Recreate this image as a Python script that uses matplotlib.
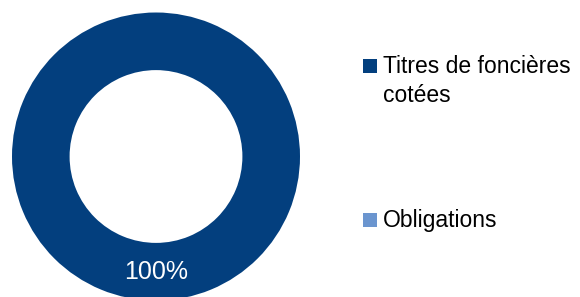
import matplotlib
matplotlib.use("Agg")
import matplotlib.pyplot as plt
from matplotlib.patches import Rectangle

# data
labels = ["Titres de foncières\ncotées", "Obligations"]
values = [100, 0]
colors = ["#033F7E", "#6B95CF"]

plt.rcParams['font.family'] = ['Liberation Sans', 'DejaVu Sans']

W, H = 580, 297
fig = plt.figure(figsize=(W / 100, H / 100), dpi=100)

# donut, centre (156, 156.5) px from top-left, outer radius 144 px
cx, cy, R = 156, 156.5, 144
ax = fig.add_axes([(cx - R) / W, (H - cy - R) / H, 2 * R / W, 2 * R / H])
wedges, texts, autotexts = ax.pie(
    values, colors=colors, startangle=90, counterclock=True,
    radius=1, wedgeprops=dict(width=0.4, linewidth=0),
    autopct=lambda p: f"{p:.0f}%" if p > 0.5 else "",
    pctdistance=0.80, textprops=dict(color="white", fontsize=18))
ax.set_xlim(-1, 1)
ax.set_ylim(-1, 1)
ax.set_aspect("equal")
ax.axis("off")
for w in wedges:
    w.set_clip_on(False)

# legend drawn by hand
legend_tops = [59, 213]  # px from top of square marker
for lab, col, top in zip(labels, colors, legend_tops):
    fig.add_artist(Rectangle((363 / W, (H - top - 14) / H), 14 / W, 14 / H,
                             transform=fig.transFigure, facecolor=col,
                             edgecolor="none"))
    for i, line in enumerate(lab.split("\n")):
        base = top + 14 + i * 29
        fig.text(383 / W, (H - base) / H, line, fontsize=16.5,
                 color="#000000", ha="left", va="baseline")

fig.savefig("out.png", dpi=100)
